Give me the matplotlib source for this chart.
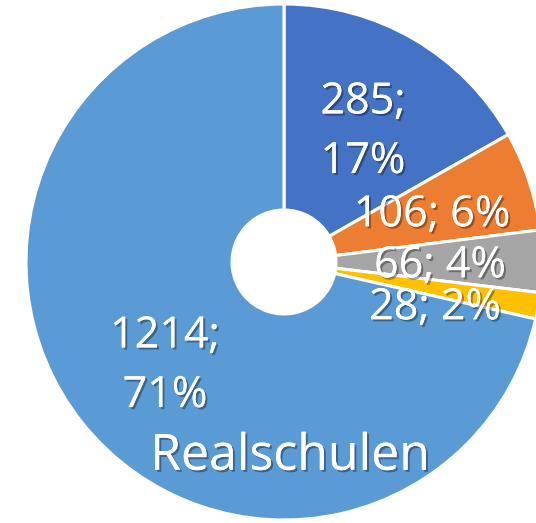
import matplotlib
matplotlib.use("Agg")
import matplotlib.pyplot as plt
import matplotlib.patheffects as pe
import numpy as np

categories = ["Gymnasien", "Gesamtschulen", "Hauptschulen", "Sonstige", "Realschulen"]
values = [285, 106, 66, 28, 1214]
colors = ["#4472C4", "#ED7D31", "#A5A5A5", "#FFC000", "#5B9BD5"]

W, H = 536, 523
cx, cy, R = 284, 262, 258
hole = 52

fig = plt.figure(figsize=(W / 100, H / 100), dpi=100)
ax = fig.add_axes([0, 0, 1, 1])

ax.pie(values, colors=colors, startangle=90, counterclock=False, radius=1,
       wedgeprops=dict(width=1 - hole / R, edgecolor="white", linewidth=2.2))

ax.set_xlim(-cx / R, (W - cx) / R)
ax.set_ylim(-(H - cy) / R, cy / R)
ax.set_aspect("equal", adjustable="box")
ax.axis("off")

total = sum(values)
pcts = [round(v / total * 100) for v in values]

def px(x, y):
    return ((x - cx) / R, (cy - y) / R)

shadow = [pe.withSimplePatchShadow(offset=(1.5, -1.5), shadow_rgbFace="black", alpha=0.35), pe.Normal()]
font = dict(color="white", fontsize=31, family=["Open Sans", "DejaVu Sans"], ha="center", va="center",
            path_effects=shadow)

# label positions (pixel coords in reference)
label_pos = [(363, 132, True), (432, 215, False), (440, 266, False), (435, 308, False), (165, 366, True)]
for v, p, (x, y, two) in zip(values, pcts, label_pos):
    txt = f"{v};\n{p}%" if two else f"{v}; {p}%"
    ax.text(*px(x, y), txt, linespacing=1.45, **font)

ax.text(*px(290, 457), categories[-1], **{**font, "fontsize": 36})

fig.savefig("out.png", dpi=100)
